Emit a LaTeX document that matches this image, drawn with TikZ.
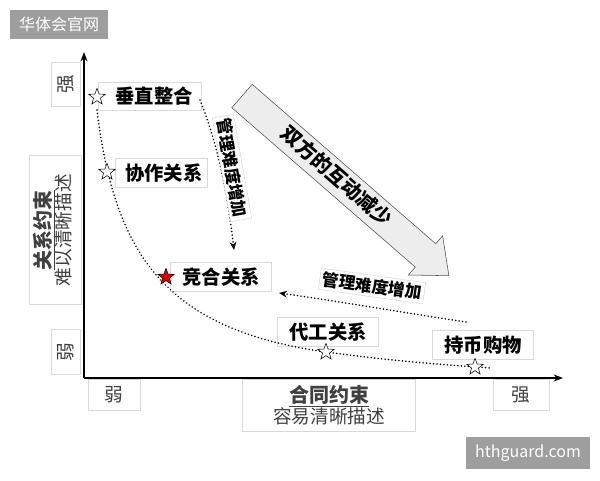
\documentclass[tikz,border=0pt]{standalone}
\usepackage{fontspec}
\setmainfont{Noto Sans CJK SC}
\usetikzlibrary{arrows.meta,shapes.geometric}
\begin{document}
\begin{tikzpicture}[x=0.75pt,y=-0.75pt,
  lbl/.style={draw=black!15,fill=white,inner sep=2pt,font=\fontsize{14.5}{16}\selectfont\bfseries},
  ax/.style={draw=black!15,fill=white,inner sep=2pt,font=\fontsize{14}{16}\selectfont,text=black!75},
  wm/.style={fill=black!38,text=white,font=\fontsize{12}{14}\selectfont,inner sep=0pt},
  st/.style={star,star points=5,star point ratio=2.4,draw=black,fill=white,minimum size=13pt,inner sep=0pt},
  dots/.style={line width=1.3pt,dash pattern=on 0.01pt off 2.6pt,line cap=round}]
\useasboundingbox (0,0) rectangle (600,480);
\fill[white] (0,0) rectangle (600,480);
% watermarks
\node[wm,minimum width=73.5pt,minimum height=22pt] (w1) at (59,24.5) {华体会官网};
\node[wm,minimum width=93pt,minimum height=24pt] (w2) at (528,453) {hthguard.com};
% axes
\coordinate (o) at (84,378);
\coordinate (yt) at (84,52);
\coordinate (xr) at (563,378);
\draw[line width=1.4pt,-{Stealth[length=7pt]}] (o) -- (yt);
\draw[line width=1.4pt,-{Stealth[length=7pt]}] (o) -- (xr);
% axis labels
\node[ax,minimum width=22pt,minimum height=33pt] (ys) at (65.5,84) {\rotatebox{90}{强}};
\node[ax,minimum width=22pt,minimum height=34pt] (yw) at (65.5,352) {\rotatebox{90}{弱}};
\node[ax,minimum width=39pt,minimum height=112pt] (yl) at (55,230) {\rotatebox{90}{\begin{tabular}{@{}c@{}}{\fontsize{15}{17}\selectfont\bfseries\underline{关系约束}}\\[-2pt] 难以清晰描述\end{tabular}}};
\node[ax,minimum width=39pt,minimum height=23pt] (xw) at (114,395) {弱};
\node[ax,minimum width=42pt,minimum height=23pt] (xs) at (521,395) {强};
\node[ax,minimum width=130pt,minimum height=39pt,align=center] (xl) at (329,405) {{\fontsize{15}{17}\selectfont\bfseries\underline{合同约束}}\\ 容易清晰描述};
% big arrow
\draw[fill=black!7,draw=black!70] (231.8,107.7) -- (252.2,84.3) -- (435.7,243.7) -- (442.6,235.8) -- (448.9,275.7) -- (408.4,275.0) -- (415.3,267.1) -- cycle;
\node[rotate=-41,font=\fontsize{15}{17}\selectfont\bfseries] (big) at (337,176) {双方的互动减少};
% nodes
\node[lbl,minimum width=77pt,minimum height=21pt] (n1) at (150,96) {\hspace*{6pt}垂直整合};
\node[lbl,minimum width=69pt,minimum height=22pt] (n2) at (161,173) {\hspace*{4pt}协作关系};
\node[lbl,minimum width=76pt,minimum height=22pt] (n3) at (221,277) {竞合关系};
\node[lbl,minimum width=76pt,minimum height=22pt] (n4) at (328,332) {代工关系};
\node[lbl,minimum width=76pt,minimum height=22pt] (n5) at (483,345) {持币购物};
% curve
\coordinate (c0) at (97,110);
\coordinate (c1) at (490,368);
\draw[dots] (c0) .. controls (115,260) and (170,330) .. (326,352) .. controls (400,362) and (450,365) .. (c1);
% stars
\node[st] (s1) at (97,97) {};
\node[st] (s2) at (107,172) {};
\node[st,fill=red!85!black] (s3) at (166,277) {};
\node[st] (s4) at (326,352) {};
\node[st] (s5) at (475,367) {};
% dotted arrows
\coordinate (a1s) at (200,100);
\coordinate (a1e) at (234,250);
\draw[dots,-{Stealth[length=6pt,width=5pt]}] (a1s) .. controls (220,150) and (228,200) .. (a1e);
\node[draw=black!15,fill=white,rotate=-80,font=\fontsize{12.5}{14}\selectfont\bfseries,inner sep=2pt] (m1) at (232,168) {管理难度增加};
\coordinate (a2s) at (466,322);
\coordinate (a2e) at (279,293);
\draw[dots,-{Stealth[length=6pt,width=5pt]}] (a2s) .. controls (400,312) and (330,300) .. (a2e);
\node[draw=black!15,fill=white,rotate=-8,font=\fontsize{12.5}{14}\selectfont\bfseries,inner sep=2pt] (m2) at (372,286) {管理难度增加};
\end{tikzpicture}
\end{document}
